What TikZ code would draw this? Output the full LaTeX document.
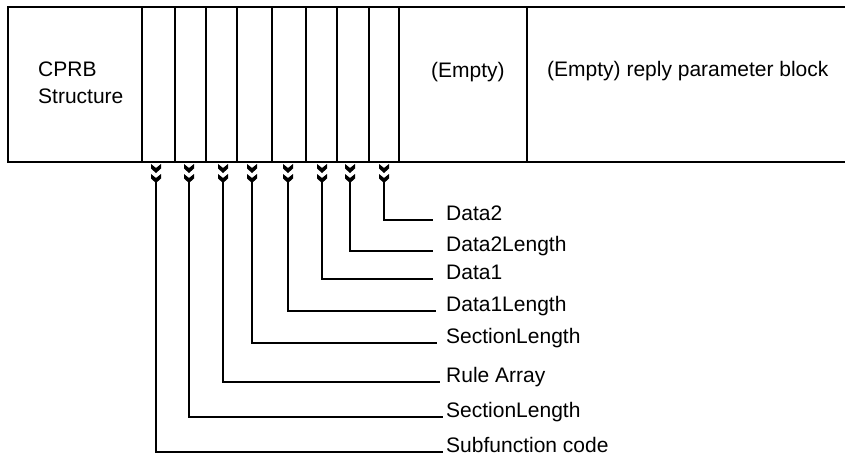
\documentclass[tikz,border=0pt]{standalone}
\usepackage{fontspec}
\setmainfont{Liberation Sans}
\begin{document}
\begin{tikzpicture}[x=1pt,y=-1pt,
  box/.style={line width=1.3pt},
  txt/.style={inner sep=0pt,anchor=base west,font=\fontsize{21}{26.7}\selectfont},
  chevron/.pic={
    \fill (-5,0) -- (0,4) -- (5,0) -- (5,4.5) -- (0,9) -- (-5,4.5) -- cycle;
    \fill (-5,10) -- (0,14) -- (5,10) -- (5,14.5) -- (0,19) -- (-5,14.5) -- cycle;
  },
  conn/.style={line width=1.2pt}]
\useasboundingbox (0,0) rectangle (845,455);
% record box
\draw[box] (845,7) -- (8,7) -- (8,162) -- (845,162);
\foreach \x in {142,175,206,237,272,306,337,369,399,527}
  \draw[box] (\x,7) -- (\x,162);
% texts in box
\node[txt,align=left] (cprb) at (38,103) {CPRB\\Structure};
\node[txt] (empty) at (431,77) {(Empty)};
\node[txt] (reply) at (547,76) {(Empty) reply parameter block};
% field anchors with double chevrons
\foreach \i/\x in {1/156,2/189,3/223,4/252,5/288,6/322,7/350,8/384}{
  \pic at (\x,164) {chevron};
  \coordinate (f\i) at (\x,182);
}
% labels
\node[txt] (l8) at (446,220) {Data2};
\node[txt] (l7) at (446,251) {Data2Length};
\node[txt] (l6) at (446,279) {Data1};
\node[txt] (l5) at (446,311) {Data1Length};
\node[txt] (l4) at (446,343) {SectionLength};
\node[txt] (l3) at (446,382) {Rule Array};
\node[txt] (l2) at (446,417) {SectionLength};
\node[txt] (l1) at (446,452) {Subfunction code};
% connectors
\foreach \i/\g in {8/13,7/13,6/13,5/10,4/9,3/6,2/3,1/3}
  \draw[conn] (f\i) |- ([xshift=-\g pt]l\i.base west);
\end{tikzpicture}
\end{document}
